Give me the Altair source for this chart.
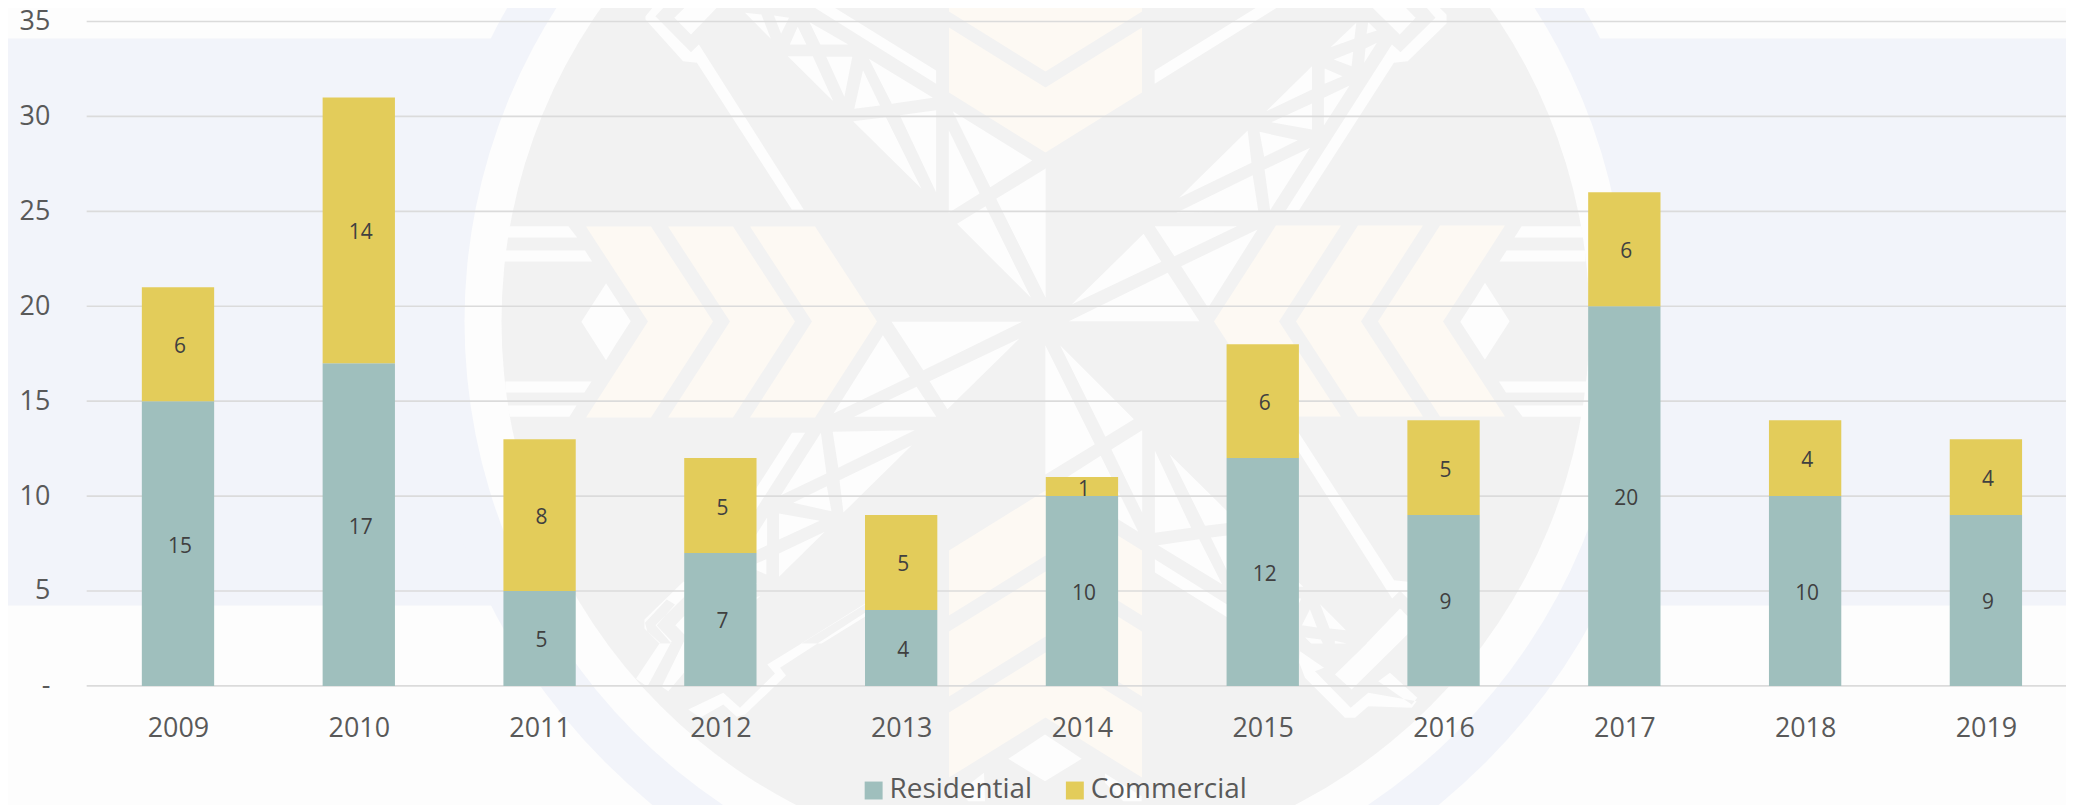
import altair as alt
import pandas as pd

years = [2009, 2010, 2011, 2012, 2013, 2014, 2015, 2016, 2017, 2018, 2019]
residential = [15, 17, 5, 7, 4, 10, 12, 9, 20, 10, 9]
commercial = [6, 14, 8, 5, 5, 1, 6, 5, 6, 4, 4]
y_ticks = [0, 5, 10, 15, 20, 25, 30, 35]
series_names = ["Residential", "Commercial"]
series_colors = ["#9FBFBD", "#E3CC5A"]

FONT = "Open Sans"
PAD_L, PAD_T = 79, 12
W, H = 1987, 667
PAGE_W, PAGE_H = 2066, 800
# the page fits the 2066-wide drawing into 2058px, so page pixels are divided by this
S = 2058 / 2066
CX, CY = 1045.5, 322.0

# ---- pale watermark behind the chart (decoration only) ----
def z4(pts):
    return [(430 + a / 2.529, b / 3) for a, b in pts]

def z5(pts):
    return [(1040 + a / 2.529, b / 3) for a, b in pts]

def zl(pts):
    return [(560 + a / 3, 600 + b / 3) for a, b in pts]

def zr(pts):
    return [(1060 + a / 3, 600 + b / 3) for a, b in pts]

white_upper = [z4(p) for p in [
    [(680,135),(945,630),(915,630),(675,190),(640,185),(545,60),(545,50),(580,0),(610,0),(570,50),(660,158)],
    [(618,55),(665,0),(745,0),(660,105)],
    [(940,0),(990,0),(1280,213),(1280,253)],
    [(1110,178),(1272,295),(1168,313)],
    [(1095,212),(1138,318),(1073,328)],
    [(1002,172),(1068,172),(1048,292)],
    [(905,170),(968,170),(1020,305)],
    [(930,82),(952,135),(910,135)],
    [(960,68),(1058,135),(987,135)],
    [(870,48),(908,55),(888,103)],
    [(797,40),(838,45),(862,118)],
    [(795,0),(825,0),(825,8)],
    [(855,0),(885,0),(900,18),(860,12)],
    [(1070,365),(1153,353),(1243,568)],
    [(1188,347),(1280,332),(1280,578)],
    [(1322,335),(1523,483),(1417,563)],
    [(1312,392),(1390,582),(1312,640)],
    [(1405,620),(1333,673),(1520,895)],
    [(1557,507),(1432,598),(1557,895)],
    [(200,680),(350,680),(372,714),(192,714)],
    [(190,753),(392,753),(410,786),(186,786)],
    [(445,852),(505,967),(445,1082),(383,967)],
]] + [z5(p) for p in [
    [(890,135),(912,158),(1000,55),(960,0),(990,0),(1028,45),(1028,72),(930,185),(895,190),(655,632),(622,632)],
    [(820,0),(905,0),(950,55),(910,105)],
    [(290,213),(580,0),(632,0),(290,253)],
    [(525,393),(535,490),(352,595)],
    [(555,397),(652,422),(567,472)],
    [(683,445),(582,632),(568,510)],
    [(538,527),(552,635),(345,640)],
    [(688,200),(688,270),(572,335)],
    [(688,312),(688,390),(585,368)],
    [(720,207),(765,230),(720,253)],
    [(783,258),(718,295),(718,378)],
    [(800,70),(795,118),(735,143)],
    [(792,157),(788,200),(743,180)],
    [(830,68),(852,93),(826,103)],
    [(852,130),(820,190),(823,147)],
    [(290,680),(498,680),(340,770)],
    [(262,703),(307,787),(80,915)],
    [(550,690),(425,925),(357,800)],
    [(323,820),(403,965),(73,965)],
    [(1218,680),(1368,680),(1376,714),(1200,714)],
    [(1180,753),(1380,753),(1380,786),(1162,786)],
    [(1125,853),(1186,967),(1125,1080),(1063,967)],
]]

# pieces that only show in the lower part of the page
white_lower = [zl(p) for p in [
    [(320,0),(255,70),(262,95),(300,130),(228,238),(262,262),(335,125),(290,78),(345,15)],
    [(372,125),(305,262),(325,275),(372,220)],
    [(915,15),(622,195),(645,222),(540,325),(490,280),(385,330),(420,355),(490,315),(530,352),(555,345),(678,228),(660,205),(915,40)],
    [(1345,478),(1455,405),(1565,478),(1455,545)],
    [(1200,575),(1272,520),(1275,605),(1225,605)],
]] + [zr(p) for p in [
    [(718,190),(735,235),(855,355),(885,355),(925,320),(1055,325),(1070,305),(925,280),(872,325),(765,215),(792,205),(720,155)],
    [(825,225),(1025,30),(1042,60),(1042,105),(875,270)],
    [(955,245),(990,220),(1072,295),(1055,315)],
    [(135,522),(245,590),(245,605),(190,605),(135,550)],
]]

cream_upper = [
    [(586 + 82 * i, 227), (651 + 82 * i, 227), (713 + 82 * i, 322), (651 + 82 * i, 418), (586 + 82 * i, 418), (648 + 82 * i, 322)]
    for i in range(3)
] + [
    [(949, b), (1045.5, b + 60), (1142, b), (1142, b + 65), (1045.5, b + 125), (949, b + 65)]
    for b in (-134, -53, 28)
]

def poly_path(pts):
    return "M" + "L".join(f"{a:.1f},{b:.1f}" for a, b in pts) + "Z"

def to_path(polys, rotate=True):
    out = []
    for p in polys:
        out.append(poly_path([(a - CX, b - CY) for a, b in p]))
        if rotate:
            out.append(poly_path([(CX - a, CY - b) for a, b in p]))
    return "".join(out)

one = pd.DataFrame({"k": [0]})
Y_BASE = 14
cx_v, cy_v = (CX - 8) / S - PAD_L, (CY - 8) / S - Y_BASE

def disc(r, color):
    return alt.Chart(one).mark_point(shape="circle", size=(2 * r / S) ** 2, filled=True, color=color,
                                     opacity=1, strokeWidth=0).encode(x=alt.value(cx_v), y=alt.value(cy_v))

def shapes(path, color):
    return alt.Chart(one).mark_point(shape=path, size=4 / S ** 2, filled=True, color=color,
                                     opacity=1, strokeWidth=0).encode(x=alt.value(cx_v), y=alt.value(cy_v))

band = alt.Chart(one).mark_rect(color="#F2F4FA").encode(
    x=alt.value(-PAD_L), x2=alt.value(W),
    y=alt.value((39 - 8) / S - Y_BASE), y2=alt.value((606 - 8) / S - Y_BASE))

background = [band, disc(623, "#F2F4FA"), disc(581, "#FDFDFD"), disc(544, "#F2F2F2"),
              shapes(to_path(white_upper) + to_path(white_lower, rotate=False), "#FDFDFD"),
              shapes(to_path(cream_upper), "#FDF9F3")]

# ---- chart ----
rows = []
for i, yr in enumerate(years):
    rows.append({"year": yr, "series": series_names[0], "rank": 0, "value": residential[i]})
    rows.append({"year": yr, "series": series_names[1], "rank": 1, "value": commercial[i]})
df = pd.DataFrame(rows)

x_scale = alt.Scale(domain=[2008.495, 2019.443], nice=False, zero=False)
y_scale = alt.Scale(domain=[0, 35], nice=False, zero=True)

stacked = alt.Chart(df).transform_stack(
    stack="value", as_=["y0", "y1"], groupby=["year"], sort=[alt.SortField("rank", order="ascending")]
).transform_calculate(mid="(datum.y0 + datum.y1) / 2", x0="datum.year - 0.2", x1="datum.year + 0.2")

grid = alt.Chart(pd.DataFrame({"t": y_ticks})).mark_rule(color="#DBDBDB", strokeWidth=1.6).encode(
    y=alt.Y("t:Q", scale=y_scale))

bars = stacked.mark_rect().encode(
    x=alt.X("x0:Q", scale=x_scale, title=None,
            axis=alt.Axis(values=years, format="d", labelAngle=0, labelFont=FONT, labelFontSize=27,
                          labelColor="#595959", labelPadding=30, ticks=False, domain=False, grid=False,
                          zindex=1, labelFlush=False)),
    x2="x1:Q",
    y=alt.Y("y0:Q", scale=y_scale, title=None,
            axis=alt.Axis(values=y_ticks, labelFont=FONT, labelFontSize=27, labelColor="#595959",
                          labelPadding=37, ticks=False, domain=False, grid=False, zindex=1,
                          labelExpr="datum.value === 0 ? '-\u00a0\u00a0' : datum.value")),
    y2="y1:Q",
    color=alt.Color("series:N", sort=series_names,
                    scale=alt.Scale(domain=series_names, range=series_colors),
                    legend=alt.Legend(title=None, orient="none", direction="horizontal",
                                      legendX=776, legendY=758, symbolType="square", symbolSize=324,
                                      symbolStrokeWidth=0, symbolOpacity=1,
                                      labelFont=FONT, labelFontSize=28, labelColor="#595959",
                                      labelOffset=2, columnPadding=28, labelLimit=300)),
)

labels = stacked.mark_text(font=FONT, fontSize=21, color="#404040", dx=2, dy=3, baseline="middle").encode(
    x=alt.X("year:Q", scale=x_scale),
    y=alt.Y("mid:Q", scale=y_scale),
    text="value:Q",
)

chart = alt.layer(*background, grid, bars, labels).properties(
    width=W, height=H,
    background="#FDFDFD",
    autosize=alt.AutoSizeParams(type="none"),
    padding={"left": PAD_L, "top": PAD_T, "right": PAGE_W - PAD_L - W, "bottom": PAGE_H - PAD_T - H},
).configure_view(stroke=None)

chart.save("out.html", embed_options={"renderer": "svg", "actions": False})
